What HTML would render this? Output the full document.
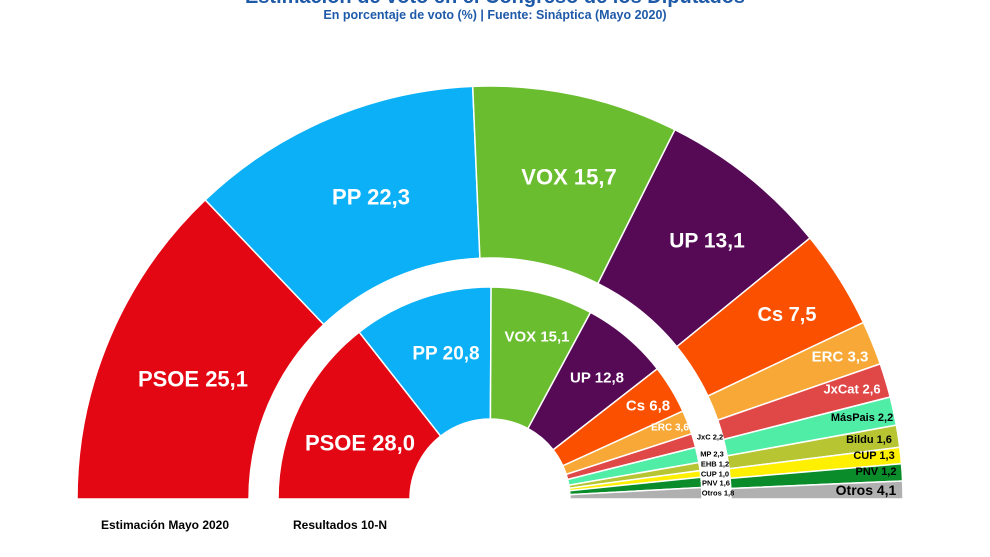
<!DOCTYPE html>
<html><head><meta charset="utf-8"><style>
body{margin:0;background:#fff;}
svg{display:block;font-family:"Liberation Sans",Arial,sans-serif;font-weight:bold;}
</style></head><body>
<svg id="s" width="990" height="557" viewBox="0 0 990 557">
<g id="arcs"></g>
<text x="495" y="3" text-anchor="middle" font-size="20" fill="#1f5aa8">Estimación de voto en el Congreso de los Diputados</text>
<text x="495" y="19" text-anchor="middle" font-size="12.5" fill="#1f5aa8">En porcentaje de voto (%) | Fuente: Sináptica (Mayo 2020)</text>
<g fill="#fff" text-anchor="middle" dominant-baseline="central">
<text x="193" y="379" font-size="22">PSOE 25,1</text>
<text x="371" y="197" font-size="22">PP 22,3</text>
<text x="569" y="177" font-size="22">VOX 15,7</text>
<text x="707" y="241" font-size="21">UP 13,1</text>
<text x="787" y="315" font-size="20">Cs 7,5</text>
<text x="840" y="357" font-size="15">ERC 3,3</text>
<text x="852" y="389" font-size="13">JxCat 2,6</text>
<text x="360" y="443" font-size="22">PSOE 28,0</text>
<text x="446" y="354" font-size="19">PP 20,8</text>
<text x="537" y="337" font-size="15">VOX 15,1</text>
<text x="597" y="378" font-size="15">UP 12,8</text>
<text x="648" y="406" font-size="15">Cs 6,8</text>
<text x="670" y="428" font-size="10">ERC 3,6</text>
</g>
<g fill="#000" text-anchor="middle" dominant-baseline="central">
<text x="862" y="418" font-size="11">MásPais 2,2</text>
<text x="869" y="440" font-size="11">Bildu 1,6</text>
<text x="874" y="456" font-size="11">CUP 1,3</text>
<text x="876" y="472" font-size="11">PNV 1,2</text>
<text x="866" y="490" font-size="14">Otros 4,1</text>
<text x="710" y="437" font-size="7.5">JxC 2,2</text>
<text x="712" y="454" font-size="7.5">MP 2,3</text>
<text x="715" y="464" font-size="7.5">EHB 1,2</text>
<text x="715" y="474" font-size="7.5">CUP 1,0</text>
<text x="716" y="483" font-size="7.5">PNV 1,6</text>
<text x="718" y="493" font-size="7.5">Otros 1,8</text>
<text x="165" y="525" font-size="12">Estimación Mayo 2020</text>
<text x="340" y="525" font-size="12">Resultados 10-N</text>
</g>
</svg>
<script>
var C=["#e30613","#0bb0f7","#6abd2f","#560a56","#fa5000","#f7a836","#e04848","#50eda6","#b6c531","#ffef00","#0a8c2a","#b0b0b0"];
var outer=[180,133.6,92.4,63.4,39.2,25.3,19.1,14.3,10.3,7.2,4.9,2.5,0];
var inner=[180,128.1,89.7,61.7,37.9,24.5,17.9,14.1,9.9,7.7,5.9,3.1,0];
var cx=490,cy=499,g=document.getElementById("arcs"),ns="http://www.w3.org/2000/svg";
function ring(v,r0,r1){
for(var i=0;i<12;i++){var a=v[i]*Math.PI/180,b=v[i+1]*Math.PI/180;
var p=function(r,ang){return (cx+r*Math.cos(ang)).toFixed(2)+","+(cy-r*Math.sin(ang)).toFixed(2)};
var d="M"+p(r1,a)+"A"+r1+","+r1+" 0 0 1 "+p(r1,b)+"L"+p(r0,b)+"A"+r0+","+r0+" 0 0 0 "+p(r0,a)+"Z";
var e=document.createElementNS(ns,"path");e.setAttribute("d",d);e.setAttribute("fill",C[i]);
e.setAttribute("stroke","#fff");e.setAttribute("stroke-width","1.5");g.appendChild(e);}}
ring(outer,241,413);ring(inner,80,212);
</script>
</body></html>
